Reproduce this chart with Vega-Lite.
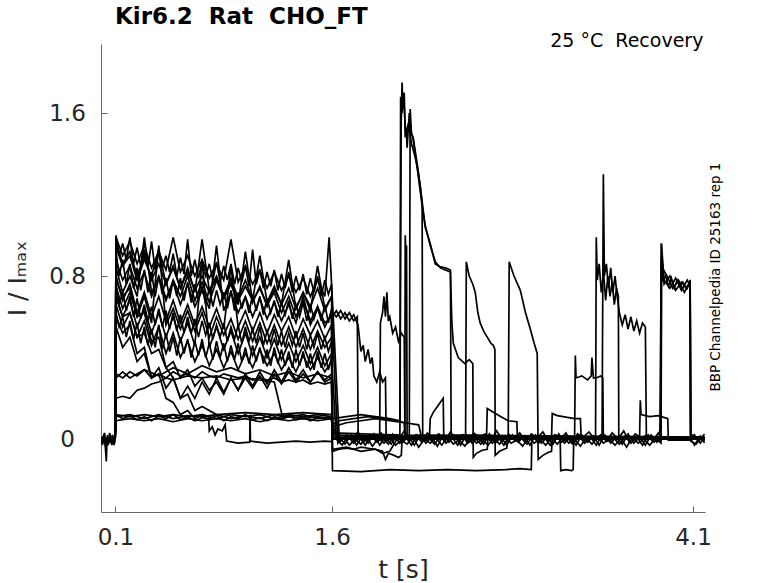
{
"$schema": "https://vega.github.io/schema/vega-lite/v6.json",
"width": 604, "height": 468,
"autosize": "none",
"padding": {"left": 101, "top": 44, "right": 73, "bottom": 71},
"background": "white",
"config": {"view": {"stroke": null}, "font": "DejaVu Sans"},
"title": {"text": "Kir6.2\u00a0\u00a0Rat\u00a0\u00a0CHO_FT", "anchor": "start", "frame": "group", "dx": 14, "fontSize": 23, "fontWeight": "bold", "font": "DejaVu Sans", "color": "black", "offset": 3},
"layer": [
{
"data": {"values": [
{"sweep":"s01","t":0,"i":0.0},{"sweep":"s01","t":0.098,"i":0.01},{"sweep":"s01","t":0.104,"i":0.99},{"sweep":"s01","t":0.15,"i":0.9},{"sweep":"s01","t":0.2,"i":0.97},{"sweep":"s01","t":0.25,"i":0.86},{"sweep":"s01","t":0.3,"i":0.95},{"sweep":"s01","t":0.35,"i":0.84},{"sweep":"s01","t":0.4,"i":0.92},{"sweep":"s01","t":0.45,"i":0.83},{"sweep":"s01","t":0.5,"i":0.99},{"sweep":"s01","t":0.55,"i":0.82},{"sweep":"s01","t":0.6,"i":0.9},{"sweep":"s01","t":0.65,"i":0.8},{"sweep":"s01","t":0.7,"i":0.88},{"sweep":"s01","t":0.75,"i":0.79},{"sweep":"s01","t":0.8,"i":0.86},{"sweep":"s01","t":0.85,"i":0.78},{"sweep":"s01","t":0.9,"i":0.98},{"sweep":"s01","t":0.95,"i":0.77},{"sweep":"s01","t":1.0,"i":0.85},{"sweep":"s01","t":1.05,"i":0.76},{"sweep":"s01","t":1.1,"i":0.83},{"sweep":"s01","t":1.15,"i":0.74},{"sweep":"s01","t":1.2,"i":0.82},{"sweep":"s01","t":1.25,"i":0.73},{"sweep":"s01","t":1.3,"i":0.8},{"sweep":"s01","t":1.35,"i":0.72},{"sweep":"s01","t":1.4,"i":0.79},{"sweep":"s01","t":1.45,"i":0.7},{"sweep":"s01","t":1.5,"i":0.78},{"sweep":"s01","t":1.55,"i":0.7},{"sweep":"s01","t":1.58,"i":0.99},{"sweep":"s01","t":1.597,"i":0.76},{"sweep":"s01","t":1.603,"i":0.62},{"sweep":"s01","t":1.63,"i":0.6},{"sweep":"s01","t":1.66,"i":0.63},{"sweep":"s01","t":1.69,"i":0.59},{"sweep":"s01","t":1.72,"i":0.62},{"sweep":"s01","t":1.75,"i":0.58},{"sweep":"s01","t":1.775,"i":0.6},{"sweep":"s01","t":1.781,"i":0.01},{"sweep":"s01","t":2.5,"i":0.01},{"sweep":"s01","t":3.3,"i":0.0},{"sweep":"s01","t":4.18,"i":0.01},
{"sweep":"s02","t":0,"i":0.0},{"sweep":"s02","t":0.098,"i":0.0},{"sweep":"s02","t":0.104,"i":0.94},{"sweep":"s02","t":0.15,"i":0.85},{"sweep":"s02","t":0.2,"i":0.9},{"sweep":"s02","t":0.25,"i":0.78},{"sweep":"s02","t":0.3,"i":0.88},{"sweep":"s02","t":0.35,"i":0.8},{"sweep":"s02","t":0.4,"i":0.93},{"sweep":"s02","t":0.45,"i":0.76},{"sweep":"s02","t":0.5,"i":0.85},{"sweep":"s02","t":0.55,"i":0.74},{"sweep":"s02","t":0.6,"i":0.84},{"sweep":"s02","t":0.65,"i":0.72},{"sweep":"s02","t":0.7,"i":0.98},{"sweep":"s02","t":0.75,"i":0.73},{"sweep":"s02","t":0.8,"i":0.8},{"sweep":"s02","t":0.85,"i":0.7},{"sweep":"s02","t":0.9,"i":0.79},{"sweep":"s02","t":0.95,"i":0.69},{"sweep":"s02","t":1.0,"i":0.78},{"sweep":"s02","t":1.05,"i":0.68},{"sweep":"s02","t":1.1,"i":0.9},{"sweep":"s02","t":1.15,"i":0.67},{"sweep":"s02","t":1.2,"i":0.75},{"sweep":"s02","t":1.25,"i":0.66},{"sweep":"s02","t":1.3,"i":0.74},{"sweep":"s02","t":1.35,"i":0.64},{"sweep":"s02","t":1.4,"i":0.72},{"sweep":"s02","t":1.45,"i":0.63},{"sweep":"s02","t":1.5,"i":0.85},{"sweep":"s02","t":1.55,"i":0.64},{"sweep":"s02","t":1.597,"i":0.7},{"sweep":"s02","t":1.603,"i":0.6},{"sweep":"s02","t":1.63,"i":0.63},{"sweep":"s02","t":1.66,"i":0.59},{"sweep":"s02","t":1.69,"i":0.62},{"sweep":"s02","t":1.72,"i":0.58},{"sweep":"s02","t":1.75,"i":0.61},{"sweep":"s02","t":1.78,"i":0.56},{"sweep":"s02","t":1.8,"i":0.43},{"sweep":"s02","t":1.816,"i":0.46},{"sweep":"s02","t":1.83,"i":0.38},{"sweep":"s02","t":1.85,"i":0.44},{"sweep":"s02","t":1.865,"i":0.37},{"sweep":"s02","t":1.878,"i":0.4},{"sweep":"s02","t":1.89,"i":0.31},{"sweep":"s02","t":1.91,"i":0.28},{"sweep":"s02","t":1.93,"i":0.33},{"sweep":"s02","t":1.95,"i":0.28},{"sweep":"s02","t":1.97,"i":0.3},{"sweep":"s02","t":1.975,"i":0.0},{"sweep":"s02","t":2.6,"i":0.01},{"sweep":"s02","t":4.18,"i":0.0},
{"sweep":"s03","t":0,"i":0.0},{"sweep":"s03","t":0.098,"i":0.0},{"sweep":"s03","t":0.104,"i":0.88},{"sweep":"s03","t":0.15,"i":0.78},{"sweep":"s03","t":0.2,"i":0.85},{"sweep":"s03","t":0.25,"i":0.74},{"sweep":"s03","t":0.3,"i":0.82},{"sweep":"s03","t":0.35,"i":0.7},{"sweep":"s03","t":0.4,"i":0.8},{"sweep":"s03","t":0.45,"i":0.69},{"sweep":"s03","t":0.5,"i":0.77},{"sweep":"s03","t":0.55,"i":0.66},{"sweep":"s03","t":0.6,"i":0.76},{"sweep":"s03","t":0.65,"i":0.65},{"sweep":"s03","t":0.7,"i":0.73},{"sweep":"s03","t":0.75,"i":0.64},{"sweep":"s03","t":0.8,"i":0.95},{"sweep":"s03","t":0.85,"i":0.63},{"sweep":"s03","t":0.9,"i":0.72},{"sweep":"s03","t":0.95,"i":0.62},{"sweep":"s03","t":1.0,"i":0.7},{"sweep":"s03","t":1.05,"i":0.6},{"sweep":"s03","t":1.1,"i":0.69},{"sweep":"s03","t":1.15,"i":0.59},{"sweep":"s03","t":1.2,"i":0.67},{"sweep":"s03","t":1.25,"i":0.58},{"sweep":"s03","t":1.3,"i":0.66},{"sweep":"s03","t":1.35,"i":0.57},{"sweep":"s03","t":1.4,"i":0.7},{"sweep":"s03","t":1.45,"i":0.56},{"sweep":"s03","t":1.5,"i":0.64},{"sweep":"s03","t":1.55,"i":0.55},{"sweep":"s03","t":1.597,"i":0.62},{"sweep":"s03","t":1.603,"i":0.02},{"sweep":"s03","t":1.93,"i":0.01},{"sweep":"s03","t":1.935,"i":0.57},{"sweep":"s03","t":1.95,"i":0.62},{"sweep":"s03","t":1.96,"i":0.7},{"sweep":"s03","t":1.97,"i":0.6},{"sweep":"s03","t":1.98,"i":0.72},{"sweep":"s03","t":1.99,"i":0.58},{"sweep":"s03","t":2.0,"i":0.6},{"sweep":"s03","t":2.02,"i":0.52},{"sweep":"s03","t":2.04,"i":0.55},{"sweep":"s03","t":2.06,"i":0.48},{"sweep":"s03","t":2.08,"i":0.52},{"sweep":"s03","t":2.1,"i":0.5},{"sweep":"s03","t":2.105,"i":0.01},{"sweep":"s03","t":3.0,"i":0.0},{"sweep":"s03","t":4.18,"i":0.01},
{"sweep":"s04","t":0,"i":0.0},{"sweep":"s04","t":0.098,"i":0.0},{"sweep":"s04","t":0.104,"i":0.84},{"sweep":"s04","t":0.15,"i":0.72},{"sweep":"s04","t":0.2,"i":0.8},{"sweep":"s04","t":0.25,"i":0.7},{"sweep":"s04","t":0.3,"i":0.99},{"sweep":"s04","t":0.35,"i":0.72},{"sweep":"s04","t":0.4,"i":0.79},{"sweep":"s04","t":0.45,"i":0.68},{"sweep":"s04","t":0.5,"i":0.78},{"sweep":"s04","t":0.55,"i":0.7},{"sweep":"s04","t":0.6,"i":0.8},{"sweep":"s04","t":0.65,"i":0.68},{"sweep":"s04","t":0.7,"i":0.77},{"sweep":"s04","t":0.75,"i":0.67},{"sweep":"s04","t":0.8,"i":0.78},{"sweep":"s04","t":0.85,"i":0.69},{"sweep":"s04","t":0.9,"i":0.76},{"sweep":"s04","t":0.95,"i":0.66},{"sweep":"s04","t":1.0,"i":0.92},{"sweep":"s04","t":1.05,"i":0.67},{"sweep":"s04","t":1.1,"i":0.75},{"sweep":"s04","t":1.15,"i":0.65},{"sweep":"s04","t":1.2,"i":0.74},{"sweep":"s04","t":1.25,"i":0.66},{"sweep":"s04","t":1.3,"i":0.88},{"sweep":"s04","t":1.35,"i":0.64},{"sweep":"s04","t":1.4,"i":0.72},{"sweep":"s04","t":1.45,"i":0.65},{"sweep":"s04","t":1.5,"i":0.74},{"sweep":"s04","t":1.55,"i":0.63},{"sweep":"s04","t":1.597,"i":0.7},{"sweep":"s04","t":1.603,"i":0.03},{"sweep":"s04","t":2.07,"i":0.02},{"sweep":"s04","t":2.079,"i":1.55},{"sweep":"s04","t":2.085,"i":1.75},{"sweep":"s04","t":2.092,"i":1.62},{"sweep":"s04","t":2.1,"i":1.7},{"sweep":"s04","t":2.107,"i":1.48},{"sweep":"s04","t":2.114,"i":1.52},{"sweep":"s04","t":2.12,"i":1.43},{"sweep":"s04","t":2.135,"i":1.6},{"sweep":"s04","t":2.15,"i":1.5},{"sweep":"s04","t":2.162,"i":1.48},{"sweep":"s04","t":2.19,"i":1.35},{"sweep":"s04","t":2.225,"i":1.16},{"sweep":"s04","t":2.245,"i":1.04},{"sweep":"s04","t":2.28,"i":0.96},{"sweep":"s04","t":2.315,"i":0.86},{"sweep":"s04","t":2.35,"i":0.845},{"sweep":"s04","t":2.385,"i":0.84},{"sweep":"s04","t":2.42,"i":0.83},{"sweep":"s04","t":2.425,"i":0.02},{"sweep":"s04","t":3.5,"i":0.01},{"sweep":"s04","t":4.18,"i":0.0},
{"sweep":"s05","t":0,"i":0.0},{"sweep":"s05","t":0.098,"i":0.0},{"sweep":"s05","t":0.104,"i":0.8},{"sweep":"s05","t":0.15,"i":0.68},{"sweep":"s05","t":0.2,"i":0.76},{"sweep":"s05","t":0.25,"i":0.62},{"sweep":"s05","t":0.3,"i":0.72},{"sweep":"s05","t":0.35,"i":0.6},{"sweep":"s05","t":0.4,"i":0.7},{"sweep":"s05","t":0.45,"i":0.58},{"sweep":"s05","t":0.5,"i":0.68},{"sweep":"s05","t":0.55,"i":0.57},{"sweep":"s05","t":0.6,"i":0.66},{"sweep":"s05","t":0.65,"i":0.56},{"sweep":"s05","t":0.7,"i":0.65},{"sweep":"s05","t":0.75,"i":0.55},{"sweep":"s05","t":0.8,"i":0.64},{"sweep":"s05","t":0.85,"i":0.54},{"sweep":"s05","t":0.9,"i":0.85},{"sweep":"s05","t":0.95,"i":0.55},{"sweep":"s05","t":1.0,"i":0.63},{"sweep":"s05","t":1.05,"i":0.53},{"sweep":"s05","t":1.1,"i":0.62},{"sweep":"s05","t":1.15,"i":0.52},{"sweep":"s05","t":1.2,"i":0.61},{"sweep":"s05","t":1.25,"i":0.53},{"sweep":"s05","t":1.3,"i":0.6},{"sweep":"s05","t":1.35,"i":0.5},{"sweep":"s05","t":1.4,"i":0.59},{"sweep":"s05","t":1.45,"i":0.51},{"sweep":"s05","t":1.5,"i":0.58},{"sweep":"s05","t":1.55,"i":0.49},{"sweep":"s05","t":1.597,"i":0.56},{"sweep":"s05","t":1.603,"i":0.0},{"sweep":"s05","t":2.135,"i":0.01},{"sweep":"s05","t":2.141,"i":1.62},{"sweep":"s05","t":2.15,"i":1.5},{"sweep":"s05","t":2.162,"i":1.47},{"sweep":"s05","t":2.175,"i":1.4},{"sweep":"s05","t":2.19,"i":1.33},{"sweep":"s05","t":2.225,"i":1.14},{"sweep":"s05","t":2.245,"i":1.05},{"sweep":"s05","t":2.28,"i":0.95},{"sweep":"s05","t":2.315,"i":0.87},{"sweep":"s05","t":2.35,"i":0.84},{"sweep":"s05","t":2.385,"i":0.83},{"sweep":"s05","t":2.42,"i":0.82},{"sweep":"s05","t":2.43,"i":0.57},{"sweep":"s05","t":2.44,"i":0.47},{"sweep":"s05","t":2.474,"i":0.4},{"sweep":"s05","t":2.52,"i":0.37},{"sweep":"s05","t":2.55,"i":0.39},{"sweep":"s05","t":2.575,"i":0.37},{"sweep":"s05","t":2.578,"i":-0.09},{"sweep":"s05","t":2.6,"i":-0.07},{"sweep":"s05","t":2.64,"i":-0.055},{"sweep":"s05","t":2.675,"i":-0.05},{"sweep":"s05","t":2.68,"i":0.0},{"sweep":"s05","t":4.18,"i":0.0},
{"sweep":"s06","t":0,"i":0.0},{"sweep":"s06","t":0.098,"i":0.0},{"sweep":"s06","t":0.104,"i":0.75},{"sweep":"s06","t":0.15,"i":0.64},{"sweep":"s06","t":0.2,"i":0.72},{"sweep":"s06","t":0.25,"i":0.6},{"sweep":"s06","t":0.3,"i":0.7},{"sweep":"s06","t":0.35,"i":0.57},{"sweep":"s06","t":0.4,"i":0.95},{"sweep":"s06","t":0.45,"i":0.56},{"sweep":"s06","t":0.5,"i":0.64},{"sweep":"s06","t":0.55,"i":0.54},{"sweep":"s06","t":0.6,"i":0.63},{"sweep":"s06","t":0.65,"i":0.53},{"sweep":"s06","t":0.7,"i":0.62},{"sweep":"s06","t":0.75,"i":0.5},{"sweep":"s06","t":0.8,"i":0.6},{"sweep":"s06","t":0.85,"i":0.51},{"sweep":"s06","t":0.9,"i":0.59},{"sweep":"s06","t":0.95,"i":0.49},{"sweep":"s06","t":1.0,"i":0.58},{"sweep":"s06","t":1.05,"i":0.48},{"sweep":"s06","t":1.1,"i":0.57},{"sweep":"s06","t":1.15,"i":0.47},{"sweep":"s06","t":1.2,"i":0.56},{"sweep":"s06","t":1.25,"i":0.46},{"sweep":"s06","t":1.3,"i":0.55},{"sweep":"s06","t":1.35,"i":0.45},{"sweep":"s06","t":1.4,"i":0.54},{"sweep":"s06","t":1.45,"i":0.44},{"sweep":"s06","t":1.5,"i":0.53},{"sweep":"s06","t":1.55,"i":0.45},{"sweep":"s06","t":1.597,"i":0.5},{"sweep":"s06","t":1.603,"i":0.07},{"sweep":"s06","t":1.65,"i":0.09},{"sweep":"s06","t":1.75,"i":0.1},{"sweep":"s06","t":1.85,"i":0.11},{"sweep":"s06","t":1.95,"i":0.1},{"sweep":"s06","t":2.05,"i":0.09},{"sweep":"s06","t":2.1,"i":0.08},{"sweep":"s06","t":2.104,"i":0.02},{"sweep":"s06","t":2.107,"i":1.0},{"sweep":"s06","t":2.112,"i":0.9},{"sweep":"s06","t":2.116,"i":0.95},{"sweep":"s06","t":2.12,"i":0.02},{"sweep":"s06","t":3.0,"i":0.01},{"sweep":"s06","t":4.18,"i":0.0},
{"sweep":"s07","t":0,"i":0.0},{"sweep":"s07","t":0.098,"i":0.0},{"sweep":"s07","t":0.104,"i":0.7},{"sweep":"s07","t":0.15,"i":0.6},{"sweep":"s07","t":0.2,"i":0.68},{"sweep":"s07","t":0.25,"i":0.55},{"sweep":"s07","t":0.3,"i":0.64},{"sweep":"s07","t":0.35,"i":0.52},{"sweep":"s07","t":0.4,"i":0.62},{"sweep":"s07","t":0.45,"i":0.5},{"sweep":"s07","t":0.5,"i":0.6},{"sweep":"s07","t":0.55,"i":0.48},{"sweep":"s07","t":0.6,"i":0.57},{"sweep":"s07","t":0.65,"i":0.46},{"sweep":"s07","t":0.7,"i":0.88},{"sweep":"s07","t":0.75,"i":0.45},{"sweep":"s07","t":0.8,"i":0.55},{"sweep":"s07","t":0.85,"i":0.44},{"sweep":"s07","t":0.9,"i":0.53},{"sweep":"s07","t":0.95,"i":0.42},{"sweep":"s07","t":1.0,"i":0.52},{"sweep":"s07","t":1.05,"i":0.41},{"sweep":"s07","t":1.1,"i":0.5},{"sweep":"s07","t":1.15,"i":0.4},{"sweep":"s07","t":1.2,"i":0.49},{"sweep":"s07","t":1.25,"i":0.39},{"sweep":"s07","t":1.3,"i":0.47},{"sweep":"s07","t":1.35,"i":0.38},{"sweep":"s07","t":1.4,"i":0.46},{"sweep":"s07","t":1.45,"i":0.37},{"sweep":"s07","t":1.5,"i":0.45},{"sweep":"s07","t":1.55,"i":0.36},{"sweep":"s07","t":1.597,"i":0.42},{"sweep":"s07","t":1.603,"i":0.1},{"sweep":"s07","t":1.7,"i":0.11},{"sweep":"s07","t":1.8,"i":0.12},{"sweep":"s07","t":1.9,"i":0.11},{"sweep":"s07","t":2.0,"i":0.1},{"sweep":"s07","t":2.07,"i":0.09},{"sweep":"s07","t":2.075,"i":1.68},{"sweep":"s07","t":2.085,"i":1.6},{"sweep":"s07","t":2.095,"i":1.7},{"sweep":"s07","t":2.11,"i":1.5},{"sweep":"s07","t":2.13,"i":1.55},{"sweep":"s07","t":2.15,"i":1.45},{"sweep":"s07","t":2.17,"i":1.4},{"sweep":"s07","t":2.19,"i":1.34},{"sweep":"s07","t":2.21,"i":1.25},{"sweep":"s07","t":2.224,"i":1.16},{"sweep":"s07","t":2.228,"i":0.02},{"sweep":"s07","t":4.18,"i":0.01},
{"sweep":"s08","t":0,"i":0.0},{"sweep":"s08","t":0.098,"i":0.0},{"sweep":"s08","t":0.104,"i":0.66},{"sweep":"s08","t":0.15,"i":0.55},{"sweep":"s08","t":0.2,"i":0.62},{"sweep":"s08","t":0.25,"i":0.5},{"sweep":"s08","t":0.3,"i":0.58},{"sweep":"s08","t":0.35,"i":0.46},{"sweep":"s08","t":0.4,"i":0.55},{"sweep":"s08","t":0.45,"i":0.42},{"sweep":"s08","t":0.5,"i":0.52},{"sweep":"s08","t":0.55,"i":0.4},{"sweep":"s08","t":0.6,"i":0.48},{"sweep":"s08","t":0.65,"i":0.38},{"sweep":"s08","t":0.7,"i":0.46},{"sweep":"s08","t":0.75,"i":0.36},{"sweep":"s08","t":0.8,"i":0.44},{"sweep":"s08","t":0.85,"i":0.35},{"sweep":"s08","t":0.9,"i":0.43},{"sweep":"s08","t":0.95,"i":0.34},{"sweep":"s08","t":1.0,"i":0.42},{"sweep":"s08","t":1.05,"i":0.35},{"sweep":"s08","t":1.1,"i":0.44},{"sweep":"s08","t":1.15,"i":0.36},{"sweep":"s08","t":1.2,"i":0.42},{"sweep":"s08","t":1.25,"i":0.34},{"sweep":"s08","t":1.3,"i":0.4},{"sweep":"s08","t":1.35,"i":0.33},{"sweep":"s08","t":1.4,"i":0.41},{"sweep":"s08","t":1.45,"i":0.34},{"sweep":"s08","t":1.5,"i":0.4},{"sweep":"s08","t":1.55,"i":0.33},{"sweep":"s08","t":1.597,"i":0.38},{"sweep":"s08","t":1.603,"i":0.0},{"sweep":"s08","t":2.525,"i":0.01},{"sweep":"s08","t":2.53,"i":0.87},{"sweep":"s08","t":2.55,"i":0.8},{"sweep":"s08","t":2.575,"i":0.76},{"sweep":"s08","t":2.592,"i":0.72},{"sweep":"s08","t":2.61,"i":0.62},{"sweep":"s08","t":2.626,"i":0.57},{"sweep":"s08","t":2.65,"i":0.53},{"sweep":"s08","t":2.675,"i":0.5},{"sweep":"s08","t":2.7,"i":0.47},{"sweep":"s08","t":2.717,"i":0.46},{"sweep":"s08","t":2.728,"i":0.44},{"sweep":"s08","t":2.73,"i":-0.08},{"sweep":"s08","t":2.76,"i":-0.06},{"sweep":"s08","t":2.79,"i":-0.05},{"sweep":"s08","t":2.81,"i":-0.045},{"sweep":"s08","t":2.815,"i":0.0},{"sweep":"s08","t":4.18,"i":0.0},
{"sweep":"s09","t":0,"i":0.0},{"sweep":"s09","t":0.098,"i":0.0},{"sweep":"s09","t":0.104,"i":0.6},{"sweep":"s09","t":0.15,"i":0.52},{"sweep":"s09","t":0.2,"i":0.56},{"sweep":"s09","t":0.25,"i":0.42},{"sweep":"s09","t":0.3,"i":0.45},{"sweep":"s09","t":0.35,"i":0.3},{"sweep":"s09","t":0.4,"i":0.32},{"sweep":"s09","t":0.45,"i":0.2},{"sweep":"s09","t":0.5,"i":0.18},{"sweep":"s09","t":0.55,"i":0.12},{"sweep":"s09","t":0.6,"i":0.14},{"sweep":"s09","t":0.65,"i":0.1},{"sweep":"s09","t":0.7,"i":0.12},{"sweep":"s09","t":0.8,"i":0.1},{"sweep":"s09","t":0.9,"i":0.12},{"sweep":"s09","t":1.0,"i":0.11},{"sweep":"s09","t":1.1,"i":0.12},{"sweep":"s09","t":1.2,"i":0.1},{"sweep":"s09","t":1.3,"i":0.12},{"sweep":"s09","t":1.4,"i":0.11},{"sweep":"s09","t":1.5,"i":0.12},{"sweep":"s09","t":1.597,"i":0.11},{"sweep":"s09","t":1.603,"i":0.01},{"sweep":"s09","t":2.82,"i":0.0},{"sweep":"s09","t":2.827,"i":0.87},{"sweep":"s09","t":2.86,"i":0.8},{"sweep":"s09","t":2.904,"i":0.73},{"sweep":"s09","t":2.94,"i":0.62},{"sweep":"s09","t":2.973,"i":0.54},{"sweep":"s09","t":3.0,"i":0.47},{"sweep":"s09","t":3.021,"i":0.42},{"sweep":"s09","t":3.028,"i":-0.1},{"sweep":"s09","t":3.06,"i":-0.08},{"sweep":"s09","t":3.1,"i":-0.065},{"sweep":"s09","t":3.12,"i":-0.06},{"sweep":"s09","t":3.125,"i":0.0},{"sweep":"s09","t":4.18,"i":0.0},
{"sweep":"s10","t":0,"i":0.0},{"sweep":"s10","t":0.098,"i":0.0},{"sweep":"s10","t":0.104,"i":0.55},{"sweep":"s10","t":0.15,"i":0.45},{"sweep":"s10","t":0.2,"i":0.5},{"sweep":"s10","t":0.25,"i":0.38},{"sweep":"s10","t":0.3,"i":0.42},{"sweep":"s10","t":0.35,"i":0.3},{"sweep":"s10","t":0.4,"i":0.35},{"sweep":"s10","t":0.45,"i":0.25},{"sweep":"s10","t":0.5,"i":0.3},{"sweep":"s10","t":0.55,"i":0.2},{"sweep":"s10","t":0.6,"i":0.26},{"sweep":"s10","t":0.65,"i":0.2},{"sweep":"s10","t":0.7,"i":0.28},{"sweep":"s10","t":0.75,"i":0.22},{"sweep":"s10","t":0.8,"i":0.3},{"sweep":"s10","t":0.85,"i":0.23},{"sweep":"s10","t":0.9,"i":0.3},{"sweep":"s10","t":0.95,"i":0.24},{"sweep":"s10","t":1.0,"i":0.3},{"sweep":"s10","t":1.05,"i":0.25},{"sweep":"s10","t":1.1,"i":0.31},{"sweep":"s10","t":1.15,"i":0.25},{"sweep":"s10","t":1.2,"i":0.32},{"sweep":"s10","t":1.25,"i":0.27},{"sweep":"s10","t":1.3,"i":0.33},{"sweep":"s10","t":1.35,"i":0.28},{"sweep":"s10","t":1.4,"i":0.32},{"sweep":"s10","t":1.45,"i":0.28},{"sweep":"s10","t":1.5,"i":0.33},{"sweep":"s10","t":1.55,"i":0.29},{"sweep":"s10","t":1.597,"i":0.32},{"sweep":"s10","t":1.603,"i":-0.06},{"sweep":"s10","t":1.65,"i":-0.05},{"sweep":"s10","t":1.7,"i":-0.045},{"sweep":"s10","t":1.75,"i":-0.05},{"sweep":"s10","t":1.8,"i":-0.04},{"sweep":"s10","t":1.85,"i":-0.045},{"sweep":"s10","t":1.9,"i":-0.05},{"sweep":"s10","t":1.95,"i":-0.06},{"sweep":"s10","t":1.97,"i":-0.1},{"sweep":"s10","t":1.99,"i":-0.07},{"sweep":"s10","t":2.03,"i":-0.08},{"sweep":"s10","t":2.06,"i":-0.09},{"sweep":"s10","t":2.08,"i":-0.08},{"sweep":"s10","t":2.085,"i":0.0},{"sweep":"s10","t":2.67,"i":0.01},{"sweep":"s10","t":2.675,"i":0.15},{"sweep":"s10","t":2.72,"i":0.13},{"sweep":"s10","t":2.77,"i":0.11},{"sweep":"s10","t":2.82,"i":0.09},{"sweep":"s10","t":2.88,"i":0.085},{"sweep":"s10","t":2.884,"i":0.0},{"sweep":"s10","t":4.18,"i":0.0},
{"sweep":"s11","t":0,"i":0.0},{"sweep":"s11","t":0.098,"i":0.0},{"sweep":"s11","t":0.104,"i":0.32},{"sweep":"s11","t":0.15,"i":0.3},{"sweep":"s11","t":0.2,"i":0.33},{"sweep":"s11","t":0.25,"i":0.31},{"sweep":"s11","t":0.3,"i":0.34},{"sweep":"s11","t":0.35,"i":0.3},{"sweep":"s11","t":0.4,"i":0.32},{"sweep":"s11","t":0.45,"i":0.3},{"sweep":"s11","t":0.5,"i":0.33},{"sweep":"s11","t":0.55,"i":0.31},{"sweep":"s11","t":0.6,"i":0.32},{"sweep":"s11","t":0.65,"i":0.3},{"sweep":"s11","t":0.7,"i":0.33},{"sweep":"s11","t":0.75,"i":0.31},{"sweep":"s11","t":0.8,"i":0.3},{"sweep":"s11","t":0.85,"i":0.32},{"sweep":"s11","t":0.9,"i":0.31},{"sweep":"s11","t":0.95,"i":0.3},{"sweep":"s11","t":1.0,"i":0.31},{"sweep":"s11","t":1.05,"i":0.29},{"sweep":"s11","t":1.1,"i":0.3},{"sweep":"s11","t":1.15,"i":0.29},{"sweep":"s11","t":1.2,"i":0.3},{"sweep":"s11","t":1.25,"i":0.28},{"sweep":"s11","t":1.3,"i":0.29},{"sweep":"s11","t":1.35,"i":0.28},{"sweep":"s11","t":1.4,"i":0.29},{"sweep":"s11","t":1.45,"i":0.27},{"sweep":"s11","t":1.5,"i":0.28},{"sweep":"s11","t":1.55,"i":0.27},{"sweep":"s11","t":1.597,"i":0.28},{"sweep":"s11","t":1.603,"i":-0.155},{"sweep":"s11","t":1.8,"i":-0.16},{"sweep":"s11","t":2.0,"i":-0.15},{"sweep":"s11","t":2.2,"i":-0.155},{"sweep":"s11","t":2.4,"i":-0.15},{"sweep":"s11","t":2.6,"i":-0.155},{"sweep":"s11","t":2.8,"i":-0.15},{"sweep":"s11","t":2.9,"i":-0.145},{"sweep":"s11","t":2.98,"i":-0.15},{"sweep":"s11","t":2.984,"i":0.0},{"sweep":"s11","t":4.18,"i":0.0},
{"sweep":"s12","t":0,"i":0.0},{"sweep":"s12","t":0.098,"i":0.0},{"sweep":"s12","t":0.104,"i":0.2},{"sweep":"s12","t":0.15,"i":0.21},{"sweep":"s12","t":0.2,"i":0.2},{"sweep":"s12","t":0.25,"i":0.24},{"sweep":"s12","t":0.3,"i":0.25},{"sweep":"s12","t":0.35,"i":0.27},{"sweep":"s12","t":0.4,"i":0.28},{"sweep":"s12","t":0.45,"i":0.3},{"sweep":"s12","t":0.5,"i":0.29},{"sweep":"s12","t":0.6,"i":0.31},{"sweep":"s12","t":0.7,"i":0.3},{"sweep":"s12","t":0.8,"i":0.31},{"sweep":"s12","t":0.9,"i":0.29},{"sweep":"s12","t":1.0,"i":0.3},{"sweep":"s12","t":1.1,"i":0.29},{"sweep":"s12","t":1.2,"i":0.28},{"sweep":"s12","t":1.26,"i":0.1},{"sweep":"s12","t":1.3,"i":0.11},{"sweep":"s12","t":1.4,"i":0.1},{"sweep":"s12","t":1.5,"i":0.11},{"sweep":"s12","t":1.597,"i":0.1},{"sweep":"s12","t":1.603,"i":0.02},{"sweep":"s12","t":3.28,"i":0.01},{"sweep":"s12","t":3.285,"i":0.41},{"sweep":"s12","t":3.29,"i":0.3},{"sweep":"s12","t":3.33,"i":0.31},{"sweep":"s12","t":3.37,"i":0.29},{"sweep":"s12","t":3.395,"i":0.31},{"sweep":"s12","t":3.4,"i":0.4},{"sweep":"s12","t":3.41,"i":0.3},{"sweep":"s12","t":3.43,"i":0.3},{"sweep":"s12","t":3.46,"i":0.31},{"sweep":"s12","t":3.475,"i":0.3},{"sweep":"s12","t":3.479,"i":0.01},{"sweep":"s12","t":4.18,"i":0.0},
{"sweep":"s13","t":0,"i":0.0},{"sweep":"s13","t":0.098,"i":0.0},{"sweep":"s13","t":0.104,"i":0.11},{"sweep":"s13","t":0.2,"i":0.12},{"sweep":"s13","t":0.3,"i":0.1},{"sweep":"s13","t":0.4,"i":0.12},{"sweep":"s13","t":0.5,"i":0.1},{"sweep":"s13","t":0.6,"i":0.115},{"sweep":"s13","t":0.7,"i":0.11},{"sweep":"s13","t":0.8,"i":0.12},{"sweep":"s13","t":0.9,"i":0.1},{"sweep":"s13","t":1.0,"i":0.115},{"sweep":"s13","t":1.1,"i":0.1},{"sweep":"s13","t":1.2,"i":0.12},{"sweep":"s13","t":1.3,"i":0.11},{"sweep":"s13","t":1.4,"i":0.12},{"sweep":"s13","t":1.5,"i":0.1},{"sweep":"s13","t":1.597,"i":0.11},{"sweep":"s13","t":1.603,"i":0.01},{"sweep":"s13","t":3.425,"i":0.0},{"sweep":"s13","t":3.43,"i":0.99},{"sweep":"s13","t":3.437,"i":0.78},{"sweep":"s13","t":3.45,"i":0.86},{"sweep":"s13","t":3.465,"i":0.72},{"sweep":"s13","t":3.48,"i":0.82},{"sweep":"s13","t":3.495,"i":0.68},{"sweep":"s13","t":3.51,"i":0.8},{"sweep":"s13","t":3.525,"i":0.7},{"sweep":"s13","t":3.54,"i":0.77},{"sweep":"s13","t":3.555,"i":0.66},{"sweep":"s13","t":3.57,"i":0.74},{"sweep":"s13","t":3.583,"i":0.7},{"sweep":"s13","t":3.586,"i":0.01},{"sweep":"s13","t":4.18,"i":0.0},
{"sweep":"s14","t":0,"i":0.0},{"sweep":"s14","t":0.098,"i":0.0},{"sweep":"s14","t":0.104,"i":0.12},{"sweep":"s14","t":0.2,"i":0.11},{"sweep":"s14","t":0.3,"i":0.12},{"sweep":"s14","t":0.4,"i":0.11},{"sweep":"s14","t":0.5,"i":0.12},{"sweep":"s14","t":0.6,"i":0.11},{"sweep":"s14","t":0.7,"i":0.12},{"sweep":"s14","t":0.745,"i":0.11},{"sweep":"s14","t":0.75,"i":0.04},{"sweep":"s14","t":0.77,"i":0.06},{"sweep":"s14","t":0.79,"i":0.02},{"sweep":"s14","t":0.81,"i":0.05},{"sweep":"s14","t":0.84,"i":0.04},{"sweep":"s14","t":0.86,"i":0.07},{"sweep":"s14","t":0.87,"i":-0.01},{"sweep":"s14","t":0.95,"i":-0.02},{"sweep":"s14","t":1.03,"i":-0.015},{"sweep":"s14","t":1.032,"i":0.12},{"sweep":"s14","t":1.035,"i":-0.01},{"sweep":"s14","t":1.15,"i":-0.02},{"sweep":"s14","t":1.25,"i":-0.015},{"sweep":"s14","t":1.35,"i":-0.01},{"sweep":"s14","t":1.45,"i":-0.015},{"sweep":"s14","t":1.55,"i":-0.01},{"sweep":"s14","t":1.597,"i":-0.012},{"sweep":"s14","t":1.603,"i":0.0},{"sweep":"s14","t":3.47,"i":0.01},{"sweep":"s14","t":3.479,"i":1.3},{"sweep":"s14","t":3.486,"i":0.8},{"sweep":"s14","t":3.5,"i":0.86},{"sweep":"s14","t":3.515,"i":0.74},{"sweep":"s14","t":3.53,"i":0.84},{"sweep":"s14","t":3.545,"i":0.72},{"sweep":"s14","t":3.56,"i":0.8},{"sweep":"s14","t":3.575,"i":0.7},{"sweep":"s14","t":3.59,"i":0.62},{"sweep":"s14","t":3.61,"i":0.56},{"sweep":"s14","t":3.63,"i":0.61},{"sweep":"s14","t":3.65,"i":0.54},{"sweep":"s14","t":3.67,"i":0.6},{"sweep":"s14","t":3.69,"i":0.53},{"sweep":"s14","t":3.71,"i":0.58},{"sweep":"s14","t":3.73,"i":0.52},{"sweep":"s14","t":3.75,"i":0.57},{"sweep":"s14","t":3.77,"i":0.55},{"sweep":"s14","t":3.777,"i":0.01},{"sweep":"s14","t":4.18,"i":0.0},
{"sweep":"s15","t":0,"i":0.0},{"sweep":"s15","t":0.098,"i":0.0},{"sweep":"s15","t":0.104,"i":0.09},{"sweep":"s15","t":0.2,"i":0.1},{"sweep":"s15","t":0.3,"i":0.09},{"sweep":"s15","t":0.4,"i":0.1},{"sweep":"s15","t":0.5,"i":0.085},{"sweep":"s15","t":0.6,"i":0.1},{"sweep":"s15","t":0.7,"i":0.09},{"sweep":"s15","t":0.8,"i":0.1},{"sweep":"s15","t":0.9,"i":0.09},{"sweep":"s15","t":1.0,"i":0.1},{"sweep":"s15","t":1.1,"i":0.085},{"sweep":"s15","t":1.2,"i":0.1},{"sweep":"s15","t":1.3,"i":0.09},{"sweep":"s15","t":1.4,"i":0.1},{"sweep":"s15","t":1.5,"i":0.09},{"sweep":"s15","t":1.597,"i":0.1},{"sweep":"s15","t":1.603,"i":0.06},{"sweep":"s15","t":1.7,"i":0.08},{"sweep":"s15","t":1.8,"i":0.09},{"sweep":"s15","t":1.9,"i":0.1},{"sweep":"s15","t":2.0,"i":0.09},{"sweep":"s15","t":2.1,"i":0.08},{"sweep":"s15","t":2.2,"i":0.07},{"sweep":"s15","t":2.22,"i":0.01},{"sweep":"s15","t":3.87,"i":0.0},{"sweep":"s15","t":3.881,"i":0.96},{"sweep":"s15","t":3.89,"i":0.78},{"sweep":"s15","t":3.91,"i":0.8},{"sweep":"s15","t":3.93,"i":0.75},{"sweep":"s15","t":3.95,"i":0.79},{"sweep":"s15","t":3.97,"i":0.74},{"sweep":"s15","t":3.99,"i":0.78},{"sweep":"s15","t":4.01,"i":0.75},{"sweep":"s15","t":4.03,"i":0.77},{"sweep":"s15","t":4.05,"i":0.74},{"sweep":"s15","t":4.07,"i":0.76},{"sweep":"s15","t":4.08,"i":0.74},{"sweep":"s15","t":4.083,"i":0.01},{"sweep":"s15","t":4.18,"i":0.0},
{"sweep":"s16","t":0,"i":0.0},{"sweep":"s16","t":0.098,"i":0.0},{"sweep":"s16","t":0.104,"i":0.7},{"sweep":"s16","t":0.15,"i":0.6},{"sweep":"s16","t":0.2,"i":0.62},{"sweep":"s16","t":0.25,"i":0.5},{"sweep":"s16","t":0.3,"i":0.52},{"sweep":"s16","t":0.35,"i":0.42},{"sweep":"s16","t":0.4,"i":0.44},{"sweep":"s16","t":0.45,"i":0.35},{"sweep":"s16","t":0.5,"i":0.38},{"sweep":"s16","t":0.55,"i":0.3},{"sweep":"s16","t":0.6,"i":0.34},{"sweep":"s16","t":0.65,"i":0.26},{"sweep":"s16","t":0.7,"i":0.3},{"sweep":"s16","t":0.75,"i":0.24},{"sweep":"s16","t":0.8,"i":0.28},{"sweep":"s16","t":0.85,"i":0.22},{"sweep":"s16","t":0.9,"i":0.3},{"sweep":"s16","t":0.95,"i":0.24},{"sweep":"s16","t":1.0,"i":0.32},{"sweep":"s16","t":1.05,"i":0.26},{"sweep":"s16","t":1.1,"i":0.33},{"sweep":"s16","t":1.15,"i":0.27},{"sweep":"s16","t":1.2,"i":0.34},{"sweep":"s16","t":1.25,"i":0.28},{"sweep":"s16","t":1.3,"i":0.35},{"sweep":"s16","t":1.35,"i":0.29},{"sweep":"s16","t":1.4,"i":0.34},{"sweep":"s16","t":1.45,"i":0.28},{"sweep":"s16","t":1.5,"i":0.33},{"sweep":"s16","t":1.55,"i":0.28},{"sweep":"s16","t":1.597,"i":0.3},{"sweep":"s16","t":1.603,"i":-0.05},{"sweep":"s16","t":1.7,"i":-0.04},{"sweep":"s16","t":1.8,"i":-0.06},{"sweep":"s16","t":1.9,"i":-0.05},{"sweep":"s16","t":1.95,"i":-0.07},{"sweep":"s16","t":2.0,"i":-0.06},{"sweep":"s16","t":2.05,"i":0.0},{"sweep":"s16","t":3.73,"i":0.01},{"sweep":"s16","t":3.735,"i":0.19},{"sweep":"s16","t":3.74,"i":0.12},{"sweep":"s16","t":3.8,"i":0.11},{"sweep":"s16","t":3.86,"i":0.115},{"sweep":"s16","t":3.925,"i":0.1},{"sweep":"s16","t":3.929,"i":-0.005},{"sweep":"s16","t":4.08,"i":-0.005},{"sweep":"s16","t":4.083,"i":0.01},{"sweep":"s16","t":4.18,"i":0.0},
{"sweep":"s17","t":0,"i":0.0},{"sweep":"s17","t":0.098,"i":0.0},{"sweep":"s17","t":0.104,"i":0.78},{"sweep":"s17","t":0.15,"i":0.7},{"sweep":"s17","t":0.2,"i":0.74},{"sweep":"s17","t":0.25,"i":0.6},{"sweep":"s17","t":0.3,"i":0.62},{"sweep":"s17","t":0.35,"i":0.48},{"sweep":"s17","t":0.4,"i":0.5},{"sweep":"s17","t":0.45,"i":0.35},{"sweep":"s17","t":0.5,"i":0.3},{"sweep":"s17","t":0.55,"i":0.2},{"sweep":"s17","t":0.6,"i":0.22},{"sweep":"s17","t":0.65,"i":0.14},{"sweep":"s17","t":0.7,"i":0.16},{"sweep":"s17","t":0.8,"i":0.12},{"sweep":"s17","t":1.0,"i":0.13},{"sweep":"s17","t":1.2,"i":0.12},{"sweep":"s17","t":1.4,"i":0.13},{"sweep":"s17","t":1.597,"i":0.12},{"sweep":"s17","t":1.603,"i":0.0},{"sweep":"s17","t":2.275,"i":0.01},{"sweep":"s17","t":2.28,"i":0.1},{"sweep":"s17","t":2.3,"i":0.13},{"sweep":"s17","t":2.33,"i":0.16},{"sweep":"s17","t":2.36,"i":0.19},{"sweep":"s17","t":2.37,"i":0.2},{"sweep":"s17","t":2.374,"i":0.0},{"sweep":"s17","t":4.18,"i":0.0},
{"sweep":"s18","t":0,"i":0.0},{"sweep":"s18","t":0.098,"i":0.0},{"sweep":"s18","t":0.104,"i":0.97},{"sweep":"s18","t":0.15,"i":0.86},{"sweep":"s18","t":0.2,"i":0.92},{"sweep":"s18","t":0.25,"i":0.8},{"sweep":"s18","t":0.3,"i":0.9},{"sweep":"s18","t":0.35,"i":0.78},{"sweep":"s18","t":0.4,"i":0.86},{"sweep":"s18","t":0.45,"i":0.76},{"sweep":"s18","t":0.5,"i":0.84},{"sweep":"s18","t":0.55,"i":0.74},{"sweep":"s18","t":0.6,"i":0.82},{"sweep":"s18","t":0.65,"i":0.73},{"sweep":"s18","t":0.7,"i":0.8},{"sweep":"s18","t":0.75,"i":0.72},{"sweep":"s18","t":0.8,"i":0.79},{"sweep":"s18","t":0.85,"i":0.7},{"sweep":"s18","t":0.9,"i":0.77},{"sweep":"s18","t":0.95,"i":0.68},{"sweep":"s18","t":1.0,"i":0.75},{"sweep":"s18","t":1.05,"i":0.68},{"sweep":"s18","t":1.1,"i":0.74},{"sweep":"s18","t":1.15,"i":0.66},{"sweep":"s18","t":1.2,"i":0.72},{"sweep":"s18","t":1.25,"i":0.62},{"sweep":"s18","t":1.3,"i":0.7},{"sweep":"s18","t":1.35,"i":0.6},{"sweep":"s18","t":1.4,"i":0.68},{"sweep":"s18","t":1.45,"i":0.58},{"sweep":"s18","t":1.5,"i":0.65},{"sweep":"s18","t":1.55,"i":0.57},{"sweep":"s18","t":1.597,"i":0.6},{"sweep":"s18","t":1.603,"i":0.0},{"sweep":"s18","t":3.18,"i":0.0},{"sweep":"s18","t":3.184,"i":-0.155},{"sweep":"s18","t":3.22,"i":-0.15},{"sweep":"s18","t":3.26,"i":-0.155},{"sweep":"s18","t":3.27,"i":-0.15},{"sweep":"s18","t":3.274,"i":0.0},{"sweep":"s18","t":4.18,"i":0.0},
{"sweep":"s19","t":0,"i":0.0},{"sweep":"s19","t":0.098,"i":0.0},{"sweep":"s19","t":0.104,"i":0.3},{"sweep":"s19","t":0.15,"i":0.33},{"sweep":"s19","t":0.2,"i":0.3},{"sweep":"s19","t":0.3,"i":0.34},{"sweep":"s19","t":0.4,"i":0.31},{"sweep":"s19","t":0.5,"i":0.35},{"sweep":"s19","t":0.6,"i":0.32},{"sweep":"s19","t":0.7,"i":0.36},{"sweep":"s19","t":0.8,"i":0.33},{"sweep":"s19","t":0.9,"i":0.35},{"sweep":"s19","t":1.0,"i":0.32},{"sweep":"s19","t":1.1,"i":0.34},{"sweep":"s19","t":1.2,"i":0.31},{"sweep":"s19","t":1.3,"i":0.33},{"sweep":"s19","t":1.4,"i":0.3},{"sweep":"s19","t":1.5,"i":0.32},{"sweep":"s19","t":1.597,"i":0.3},{"sweep":"s19","t":1.603,"i":0.0},{"sweep":"s19","t":3.12,"i":0.0},{"sweep":"s19","t":3.125,"i":0.125},{"sweep":"s19","t":3.16,"i":0.115},{"sweep":"s19","t":3.2,"i":0.11},{"sweep":"s19","t":3.24,"i":0.105},{"sweep":"s19","t":3.28,"i":0.1},{"sweep":"s19","t":3.32,"i":0.1},{"sweep":"s19","t":3.326,"i":0.0},{"sweep":"s19","t":4.18,"i":0.0},
{"sweep":"n1","t":0,"i":0.0},{"sweep":"n1","t":0.01,"i":-0.03},{"sweep":"n1","t":0.02,"i":0.02},{"sweep":"n1","t":0.03,"i":-0.04},{"sweep":"n1","t":0.037,"i":-0.11},{"sweep":"n1","t":0.042,"i":0.01},{"sweep":"n1","t":0.05,"i":-0.03},{"sweep":"n1","t":0.06,"i":0.03},{"sweep":"n1","t":0.07,"i":-0.02},{"sweep":"n1","t":0.08,"i":0.02},{"sweep":"n1","t":0.09,"i":-0.03},{"sweep":"n1","t":0.098,"i":0.01},
{"sweep":"n1","t":0.104,"i":0.12},{"sweep":"n1","t":0.15,"i":0.1},{"sweep":"n1","t":0.2,"i":0.115},{"sweep":"n1","t":0.25,"i":0.095},{"sweep":"n1","t":0.3,"i":0.11},{"sweep":"n1","t":0.35,"i":0.09},{"sweep":"n1","t":0.4,"i":0.115},{"sweep":"n1","t":0.45,"i":0.1},{"sweep":"n1","t":0.5,"i":0.12},{"sweep":"n1","t":0.55,"i":0.095},{"sweep":"n1","t":0.6,"i":0.11},{"sweep":"n1","t":0.65,"i":0.09},{"sweep":"n1","t":0.7,"i":0.105},{"sweep":"n1","t":0.75,"i":0.1},{"sweep":"n1","t":0.8,"i":0.115},{"sweep":"n1","t":0.85,"i":0.09},{"sweep":"n1","t":0.9,"i":0.11},{"sweep":"n1","t":0.95,"i":0.1},{"sweep":"n1","t":1.0,"i":0.12},{"sweep":"n1","t":1.05,"i":0.095},{"sweep":"n1","t":1.1,"i":0.105},{"sweep":"n1","t":1.15,"i":0.09},{"sweep":"n1","t":1.2,"i":0.11},{"sweep":"n1","t":1.25,"i":0.1},{"sweep":"n1","t":1.3,"i":0.115},{"sweep":"n1","t":1.35,"i":0.095},{"sweep":"n1","t":1.4,"i":0.11},{"sweep":"n1","t":1.45,"i":0.09},{"sweep":"n1","t":1.5,"i":0.105},{"sweep":"n1","t":1.55,"i":0.1},{"sweep":"n1","t":1.597,"i":0.1},
{"sweep":"n1","t":1.62,"i":0.03},{"sweep":"n1","t":1.66,"i":-0.01},{"sweep":"n1","t":1.7,"i":0.02},{"sweep":"n1","t":1.74,"i":0.0},{"sweep":"n1","t":1.78,"i":0.035},{"sweep":"n1","t":1.82,"i":-0.015},{"sweep":"n1","t":1.86,"i":0.02},{"sweep":"n1","t":1.9,"i":0.005},{"sweep":"n1","t":1.94,"i":0.03},{"sweep":"n1","t":1.98,"i":-0.01},{"sweep":"n1","t":2.02,"i":0.025},{"sweep":"n1","t":2.06,"i":-0.005},{"sweep":"n1","t":2.1,"i":0.04},{"sweep":"n1","t":2.14,"i":0.0},{"sweep":"n1","t":2.18,"i":0.02},{"sweep":"n1","t":2.22,"i":-0.015},{"sweep":"n1","t":2.26,"i":0.03},{"sweep":"n1","t":2.3,"i":0.005},{"sweep":"n1","t":2.34,"i":0.025},{"sweep":"n1","t":2.38,"i":-0.01},{"sweep":"n1","t":2.42,"i":0.035},{"sweep":"n1","t":2.46,"i":0.0},{"sweep":"n1","t":2.5,"i":0.02},{"sweep":"n1","t":2.54,"i":-0.02},{"sweep":"n1","t":2.58,"i":0.03},{"sweep":"n1","t":2.62,"i":0.01},{"sweep":"n1","t":2.66,"i":0.025},{"sweep":"n1","t":2.7,"i":-0.01},{"sweep":"n1","t":2.74,"i":0.04},{"sweep":"n1","t":2.78,"i":-0.005},{"sweep":"n1","t":2.82,"i":0.02},{"sweep":"n1","t":2.86,"i":0.0},{"sweep":"n1","t":2.9,"i":0.03},{"sweep":"n1","t":2.94,"i":-0.015},{"sweep":"n1","t":2.98,"i":0.025},{"sweep":"n1","t":3.02,"i":0.005},{"sweep":"n1","t":3.06,"i":0.035},{"sweep":"n1","t":3.1,"i":-0.01},{"sweep":"n1","t":3.14,"i":0.02},{"sweep":"n1","t":3.18,"i":0.0},{"sweep":"n1","t":3.22,"i":0.03},{"sweep":"n1","t":3.26,"i":-0.02},{"sweep":"n1","t":3.3,"i":0.025},{"sweep":"n1","t":3.34,"i":0.01},{"sweep":"n1","t":3.38,"i":0.035},{"sweep":"n1","t":3.42,"i":-0.005},{"sweep":"n1","t":3.46,"i":0.02},{"sweep":"n1","t":3.5,"i":-0.01},{"sweep":"n1","t":3.54,"i":0.03},{"sweep":"n1","t":3.58,"i":0.0},{"sweep":"n1","t":3.62,"i":0.04},{"sweep":"n1","t":3.66,"i":-0.015},{"sweep":"n1","t":3.7,"i":0.025},{"sweep":"n1","t":3.74,"i":0.005},{"sweep":"n1","t":3.78,"i":0.02},{"sweep":"n1","t":3.82,"i":-0.01},{"sweep":"n1","t":3.86,"i":0.03},{"sweep":"n1","t":3.879,"i":0.0},{"sweep":"n1","t":3.881,"i":0.96},{"sweep":"n1","t":3.9,"i":0.78},{"sweep":"n1","t":3.94,"i":0.74},{"sweep":"n1","t":3.98,"i":0.79},{"sweep":"n1","t":4.02,"i":0.73},{"sweep":"n1","t":4.06,"i":0.78},{"sweep":"n1","t":4.08,"i":0.75},{"sweep":"n1","t":4.083,"i":0.02},{"sweep":"n1","t":4.1,"i":0.02},{"sweep":"n1","t":4.14,"i":-0.01},{"sweep":"n1","t":4.18,"i":0.025},
{"sweep":"n2","t":0,"i":0.01},{"sweep":"n2","t":0.015,"i":-0.02},{"sweep":"n2","t":0.025,"i":0.03},{"sweep":"n2","t":0.035,"i":-0.05},{"sweep":"n2","t":0.045,"i":0.02},{"sweep":"n2","t":0.055,"i":-0.02},{"sweep":"n2","t":0.065,"i":0.02},{"sweep":"n2","t":0.075,"i":-0.03},{"sweep":"n2","t":0.085,"i":0.01},{"sweep":"n2","t":0.095,"i":-0.02},
{"sweep":"n2","t":0.104,"i":0.92},{"sweep":"n2","t":0.125,"i":0.8},{"sweep":"n2","t":0.15,"i":0.88},{"sweep":"n2","t":0.175,"i":0.76},{"sweep":"n2","t":0.2,"i":0.86},{"sweep":"n2","t":0.225,"i":0.74},{"sweep":"n2","t":0.25,"i":0.84},{"sweep":"n2","t":0.275,"i":0.73},{"sweep":"n2","t":0.3,"i":0.83},{"sweep":"n2","t":0.325,"i":0.72},{"sweep":"n2","t":0.35,"i":0.82},{"sweep":"n2","t":0.375,"i":0.7},{"sweep":"n2","t":0.4,"i":0.8},{"sweep":"n2","t":0.425,"i":0.71},{"sweep":"n2","t":0.45,"i":0.79},{"sweep":"n2","t":0.475,"i":0.69},{"sweep":"n2","t":0.5,"i":0.78},{"sweep":"n2","t":0.525,"i":0.7},{"sweep":"n2","t":0.55,"i":0.79},{"sweep":"n2","t":0.575,"i":0.68},{"sweep":"n2","t":0.6,"i":0.77},{"sweep":"n2","t":0.625,"i":0.67},{"sweep":"n2","t":0.65,"i":0.76},{"sweep":"n2","t":0.675,"i":0.68},{"sweep":"n2","t":0.7,"i":0.75},{"sweep":"n2","t":0.725,"i":0.66},{"sweep":"n2","t":0.75,"i":0.74},{"sweep":"n2","t":0.775,"i":0.65},{"sweep":"n2","t":0.8,"i":0.73},{"sweep":"n2","t":0.825,"i":0.66},{"sweep":"n2","t":0.85,"i":0.72},{"sweep":"n2","t":0.875,"i":0.64},{"sweep":"n2","t":0.9,"i":0.73},{"sweep":"n2","t":0.925,"i":0.63},{"sweep":"n2","t":0.95,"i":0.72},{"sweep":"n2","t":0.975,"i":0.64},{"sweep":"n2","t":1.0,"i":0.7},{"sweep":"n2","t":1.025,"i":0.62},{"sweep":"n2","t":1.05,"i":0.71},{"sweep":"n2","t":1.075,"i":0.63},{"sweep":"n2","t":1.1,"i":0.7},{"sweep":"n2","t":1.125,"i":0.61},{"sweep":"n2","t":1.15,"i":0.69},{"sweep":"n2","t":1.175,"i":0.62},{"sweep":"n2","t":1.2,"i":0.68},{"sweep":"n2","t":1.225,"i":0.6},{"sweep":"n2","t":1.25,"i":0.67},{"sweep":"n2","t":1.275,"i":0.61},{"sweep":"n2","t":1.3,"i":0.68},{"sweep":"n2","t":1.325,"i":0.59},{"sweep":"n2","t":1.35,"i":0.66},{"sweep":"n2","t":1.375,"i":0.6},{"sweep":"n2","t":1.4,"i":0.67},{"sweep":"n2","t":1.425,"i":0.58},{"sweep":"n2","t":1.45,"i":0.66},{"sweep":"n2","t":1.475,"i":0.59},{"sweep":"n2","t":1.5,"i":0.65},{"sweep":"n2","t":1.525,"i":0.58},{"sweep":"n2","t":1.55,"i":0.66},{"sweep":"n2","t":1.575,"i":0.57},{"sweep":"n2","t":1.597,"i":0.64},
{"sweep":"n2","t":1.64,"i":-0.02},{"sweep":"n2","t":1.68,"i":0.01},{"sweep":"n2","t":1.72,"i":-0.03},{"sweep":"n2","t":1.76,"i":0.0},{"sweep":"n2","t":1.8,"i":-0.025},{"sweep":"n2","t":1.84,"i":0.01},{"sweep":"n2","t":1.88,"i":-0.035},{"sweep":"n2","t":1.92,"i":0.005},{"sweep":"n2","t":1.96,"i":-0.02},{"sweep":"n2","t":2.0,"i":0.01},{"sweep":"n2","t":2.04,"i":-0.03},{"sweep":"n2","t":2.08,"i":-0.005},{"sweep":"n2","t":2.12,"i":-0.025},{"sweep":"n2","t":2.16,"i":0.01},{"sweep":"n2","t":2.2,"i":-0.04},{"sweep":"n2","t":2.24,"i":0.0},{"sweep":"n2","t":2.28,"i":-0.02},{"sweep":"n2","t":2.32,"i":0.005},{"sweep":"n2","t":2.36,"i":-0.03},{"sweep":"n2","t":2.4,"i":0.01},{"sweep":"n2","t":2.44,"i":-0.025},{"sweep":"n2","t":2.48,"i":-0.005},{"sweep":"n2","t":2.52,"i":-0.035},{"sweep":"n2","t":2.56,"i":0.01},{"sweep":"n2","t":2.6,"i":-0.02},{"sweep":"n2","t":2.64,"i":0.0},{"sweep":"n2","t":2.68,"i":-0.03},{"sweep":"n2","t":2.72,"i":0.005},{"sweep":"n2","t":2.76,"i":-0.025},{"sweep":"n2","t":2.8,"i":0.01},{"sweep":"n2","t":2.84,"i":-0.02},{"sweep":"n2","t":2.88,"i":-0.005},{"sweep":"n2","t":2.92,"i":-0.035},{"sweep":"n2","t":2.96,"i":0.01},{"sweep":"n2","t":3.0,"i":-0.02},{"sweep":"n2","t":3.04,"i":0.0},{"sweep":"n2","t":3.08,"i":-0.03},{"sweep":"n2","t":3.12,"i":0.005},{"sweep":"n2","t":3.16,"i":-0.025},{"sweep":"n2","t":3.2,"i":0.01},{"sweep":"n2","t":3.24,"i":-0.02},{"sweep":"n2","t":3.28,"i":0.0},{"sweep":"n2","t":3.32,"i":-0.035},{"sweep":"n2","t":3.36,"i":0.005},{"sweep":"n2","t":3.4,"i":-0.025},{"sweep":"n2","t":3.44,"i":0.01},{"sweep":"n2","t":3.48,"i":-0.02},{"sweep":"n2","t":3.52,"i":0.0},{"sweep":"n2","t":3.56,"i":-0.03},{"sweep":"n2","t":3.6,"i":0.005},{"sweep":"n2","t":3.64,"i":-0.04},{"sweep":"n2","t":3.68,"i":0.01},{"sweep":"n2","t":3.72,"i":-0.02},{"sweep":"n2","t":3.76,"i":0.0},{"sweep":"n2","t":3.8,"i":-0.03},{"sweep":"n2","t":3.84,"i":0.005},{"sweep":"n2","t":3.878,"i":-0.02},{"sweep":"n2","t":3.8805,"i":0.85},{"sweep":"n2","t":3.92,"i":0.8},{"sweep":"n2","t":3.96,"i":0.74},{"sweep":"n2","t":4.0,"i":0.78},{"sweep":"n2","t":4.04,"i":0.72},{"sweep":"n2","t":4.08,"i":0.77},{"sweep":"n2","t":4.084,"i":-0.01},{"sweep":"n2","t":4.12,"i":-0.025},{"sweep":"n2","t":4.16,"i":0.01},{"sweep":"n2","t":4.18,"i":-0.01},
{"sweep":"n3","t":0,"i":-0.01},{"sweep":"n3","t":0.02,"i":0.02},{"sweep":"n3","t":0.04,"i":-0.02},{"sweep":"n3","t":0.06,"i":0.01},{"sweep":"n3","t":0.08,"i":-0.01},{"sweep":"n3","t":0.098,"i":0.0},
{"sweep":"n3","t":0.104,"i":0.62},{"sweep":"n3","t":0.125,"i":0.55},{"sweep":"n3","t":0.15,"i":0.6},{"sweep":"n3","t":0.175,"i":0.5},{"sweep":"n3","t":0.2,"i":0.58},{"sweep":"n3","t":0.225,"i":0.49},{"sweep":"n3","t":0.25,"i":0.57},{"sweep":"n3","t":0.275,"i":0.47},{"sweep":"n3","t":0.3,"i":0.55},{"sweep":"n3","t":0.325,"i":0.46},{"sweep":"n3","t":0.35,"i":0.54},{"sweep":"n3","t":0.375,"i":0.45},{"sweep":"n3","t":0.4,"i":0.56},{"sweep":"n3","t":0.425,"i":0.44},{"sweep":"n3","t":0.45,"i":0.52},{"sweep":"n3","t":0.475,"i":0.43},{"sweep":"n3","t":0.5,"i":0.5},{"sweep":"n3","t":0.525,"i":0.41},{"sweep":"n3","t":0.55,"i":0.5},{"sweep":"n3","t":0.575,"i":0.42},{"sweep":"n3","t":0.6,"i":0.49},{"sweep":"n3","t":0.625,"i":0.4},{"sweep":"n3","t":0.65,"i":0.48},{"sweep":"n3","t":0.675,"i":0.41},{"sweep":"n3","t":0.7,"i":0.49},{"sweep":"n3","t":0.725,"i":0.4},{"sweep":"n3","t":0.75,"i":0.47},{"sweep":"n3","t":0.775,"i":0.39},{"sweep":"n3","t":0.8,"i":0.48},{"sweep":"n3","t":0.825,"i":0.4},{"sweep":"n3","t":0.85,"i":0.47},{"sweep":"n3","t":0.875,"i":0.38},{"sweep":"n3","t":0.9,"i":0.46},{"sweep":"n3","t":0.925,"i":0.39},{"sweep":"n3","t":0.95,"i":0.47},{"sweep":"n3","t":0.975,"i":0.38},{"sweep":"n3","t":1.0,"i":0.45},{"sweep":"n3","t":1.025,"i":0.37},{"sweep":"n3","t":1.05,"i":0.46},{"sweep":"n3","t":1.075,"i":0.38},{"sweep":"n3","t":1.1,"i":0.45},{"sweep":"n3","t":1.125,"i":0.37},{"sweep":"n3","t":1.15,"i":0.44},{"sweep":"n3","t":1.175,"i":0.36},{"sweep":"n3","t":1.2,"i":0.45},{"sweep":"n3","t":1.225,"i":0.37},{"sweep":"n3","t":1.25,"i":0.44},{"sweep":"n3","t":1.275,"i":0.36},{"sweep":"n3","t":1.3,"i":0.43},{"sweep":"n3","t":1.325,"i":0.35},{"sweep":"n3","t":1.35,"i":0.44},{"sweep":"n3","t":1.375,"i":0.36},{"sweep":"n3","t":1.4,"i":0.43},{"sweep":"n3","t":1.425,"i":0.35},{"sweep":"n3","t":1.45,"i":0.42},{"sweep":"n3","t":1.475,"i":0.34},{"sweep":"n3","t":1.5,"i":0.43},{"sweep":"n3","t":1.525,"i":0.35},{"sweep":"n3","t":1.55,"i":0.42},{"sweep":"n3","t":1.575,"i":0.34},{"sweep":"n3","t":1.597,"i":0.4},
{"sweep":"n3","t":1.63,"i":0.0},{"sweep":"n3","t":1.67,"i":-0.03},{"sweep":"n3","t":1.71,"i":0.015},{"sweep":"n3","t":1.75,"i":-0.02},{"sweep":"n3","t":1.79,"i":0.01},{"sweep":"n3","t":1.83,"i":-0.03},{"sweep":"n3","t":1.87,"i":0.02},{"sweep":"n3","t":1.91,"i":-0.015},{"sweep":"n3","t":1.95,"i":0.005},{"sweep":"n3","t":1.99,"i":-0.025},{"sweep":"n3","t":2.03,"i":0.015},{"sweep":"n3","t":2.07,"i":-0.02},{"sweep":"n3","t":2.11,"i":0.01},{"sweep":"n3","t":2.15,"i":-0.03},{"sweep":"n3","t":2.19,"i":0.02},{"sweep":"n3","t":2.23,"i":-0.01},{"sweep":"n3","t":2.27,"i":0.005},{"sweep":"n3","t":2.31,"i":-0.025},{"sweep":"n3","t":2.35,"i":0.015},{"sweep":"n3","t":2.39,"i":-0.02},{"sweep":"n3","t":2.43,"i":0.01},{"sweep":"n3","t":2.47,"i":-0.03},{"sweep":"n3","t":2.51,"i":0.02},{"sweep":"n3","t":2.55,"i":-0.015},{"sweep":"n3","t":2.59,"i":0.005},{"sweep":"n3","t":2.63,"i":-0.025},{"sweep":"n3","t":2.67,"i":0.015},{"sweep":"n3","t":2.71,"i":-0.02},{"sweep":"n3","t":2.75,"i":0.01},{"sweep":"n3","t":2.79,"i":-0.03},{"sweep":"n3","t":2.83,"i":0.02},{"sweep":"n3","t":2.87,"i":-0.01},{"sweep":"n3","t":2.91,"i":0.005},{"sweep":"n3","t":2.95,"i":-0.025},{"sweep":"n3","t":2.99,"i":0.015},{"sweep":"n3","t":3.03,"i":-0.02},{"sweep":"n3","t":3.07,"i":0.01},{"sweep":"n3","t":3.11,"i":-0.03},{"sweep":"n3","t":3.15,"i":0.02},{"sweep":"n3","t":3.19,"i":-0.015},{"sweep":"n3","t":3.23,"i":0.005},{"sweep":"n3","t":3.27,"i":-0.025},{"sweep":"n3","t":3.31,"i":0.015},{"sweep":"n3","t":3.35,"i":-0.02},{"sweep":"n3","t":3.39,"i":0.01},{"sweep":"n3","t":3.43,"i":-0.03},{"sweep":"n3","t":3.47,"i":0.02},{"sweep":"n3","t":3.51,"i":-0.01},{"sweep":"n3","t":3.55,"i":0.005},{"sweep":"n3","t":3.59,"i":-0.025},{"sweep":"n3","t":3.63,"i":0.015},{"sweep":"n3","t":3.67,"i":-0.02},{"sweep":"n3","t":3.71,"i":0.01},{"sweep":"n3","t":3.75,"i":-0.03},{"sweep":"n3","t":3.79,"i":0.02},{"sweep":"n3","t":3.83,"i":-0.015},{"sweep":"n3","t":3.87,"i":0.005},{"sweep":"n3","t":3.879,"i":-0.01},{"sweep":"n3","t":3.8815,"i":0.9},{"sweep":"n3","t":3.9,"i":0.76},{"sweep":"n3","t":3.94,"i":0.8},{"sweep":"n3","t":3.98,"i":0.73},{"sweep":"n3","t":4.02,"i":0.77},{"sweep":"n3","t":4.06,"i":0.74},{"sweep":"n3","t":4.08,"i":0.78},{"sweep":"n3","t":4.085,"i":0.0},{"sweep":"n3","t":4.11,"i":-0.03},{"sweep":"n3","t":4.15,"i":0.015},{"sweep":"n3","t":4.18,"i":-0.02},
{"sweep":"n4","t":0,"i":0.0},{"sweep":"n4","t":0.098,"i":0.0},{"sweep":"n4","t":0.104,"i":1.0},{"sweep":"n4","t":0.125,"i":0.9},{"sweep":"n4","t":0.15,"i":0.96},{"sweep":"n4","t":0.175,"i":0.88},{"sweep":"n4","t":0.2,"i":0.99},{"sweep":"n4","t":0.225,"i":0.86},{"sweep":"n4","t":0.25,"i":0.94},{"sweep":"n4","t":0.275,"i":0.85},{"sweep":"n4","t":0.3,"i":0.93},{"sweep":"n4","t":0.325,"i":0.84},{"sweep":"n4","t":0.35,"i":0.97},{"sweep":"n4","t":0.375,"i":0.83},{"sweep":"n4","t":0.4,"i":0.92},{"sweep":"n4","t":0.425,"i":0.84},{"sweep":"n4","t":0.45,"i":0.9},{"sweep":"n4","t":0.475,"i":0.82},{"sweep":"n4","t":0.5,"i":0.91},{"sweep":"n4","t":0.525,"i":0.8},{"sweep":"n4","t":0.55,"i":0.89},{"sweep":"n4","t":0.575,"i":0.81},{"sweep":"n4","t":0.6,"i":0.98},{"sweep":"n4","t":0.625,"i":0.8},{"sweep":"n4","t":0.65,"i":0.88},{"sweep":"n4","t":0.675,"i":0.79},{"sweep":"n4","t":0.7,"i":0.87},{"sweep":"n4","t":0.725,"i":0.8},{"sweep":"n4","t":0.75,"i":0.86},{"sweep":"n4","t":0.775,"i":0.78},{"sweep":"n4","t":0.8,"i":0.87},{"sweep":"n4","t":0.825,"i":0.77},{"sweep":"n4","t":0.85,"i":0.85},{"sweep":"n4","t":0.875,"i":0.78},{"sweep":"n4","t":0.9,"i":0.86},{"sweep":"n4","t":0.925,"i":0.76},{"sweep":"n4","t":0.95,"i":0.84},{"sweep":"n4","t":0.975,"i":0.77},{"sweep":"n4","t":1.0,"i":0.85},{"sweep":"n4","t":1.025,"i":0.75},{"sweep":"n4","t":1.05,"i":0.93},{"sweep":"n4","t":1.075,"i":0.76},{"sweep":"n4","t":1.1,"i":0.83},{"sweep":"n4","t":1.125,"i":0.74},{"sweep":"n4","t":1.15,"i":0.82},{"sweep":"n4","t":1.175,"i":0.75},{"sweep":"n4","t":1.2,"i":0.83},{"sweep":"n4","t":1.225,"i":0.73},{"sweep":"n4","t":1.25,"i":0.81},{"sweep":"n4","t":1.275,"i":0.74},{"sweep":"n4","t":1.3,"i":0.82},{"sweep":"n4","t":1.325,"i":0.72},{"sweep":"n4","t":1.35,"i":0.8},{"sweep":"n4","t":1.375,"i":0.73},{"sweep":"n4","t":1.4,"i":0.81},{"sweep":"n4","t":1.425,"i":0.71},{"sweep":"n4","t":1.45,"i":0.79},{"sweep":"n4","t":1.475,"i":0.72},{"sweep":"n4","t":1.5,"i":0.8},{"sweep":"n4","t":1.525,"i":0.7},{"sweep":"n4","t":1.55,"i":0.78},{"sweep":"n4","t":1.575,"i":0.71},{"sweep":"n4","t":1.597,"i":0.76},
{"sweep":"n4","t":1.65,"i":0.01},{"sweep":"n4","t":1.69,"i":-0.025},{"sweep":"n4","t":1.73,"i":0.02},{"sweep":"n4","t":1.77,"i":-0.03},{"sweep":"n4","t":1.81,"i":0.015},{"sweep":"n4","t":1.85,"i":-0.02},{"sweep":"n4","t":1.89,"i":0.025},{"sweep":"n4","t":1.93,"i":-0.03},{"sweep":"n4","t":1.97,"i":0.01},{"sweep":"n4","t":2.01,"i":-0.025},{"sweep":"n4","t":2.05,"i":0.02},{"sweep":"n4","t":2.09,"i":-0.015},{"sweep":"n4","t":2.13,"i":0.015},{"sweep":"n4","t":2.17,"i":-0.03},{"sweep":"n4","t":2.21,"i":0.02},{"sweep":"n4","t":2.25,"i":-0.02},{"sweep":"n4","t":2.29,"i":0.01},{"sweep":"n4","t":2.33,"i":-0.035},{"sweep":"n4","t":2.37,"i":0.02},{"sweep":"n4","t":2.41,"i":-0.015},{"sweep":"n4","t":2.45,"i":0.015},{"sweep":"n4","t":2.49,"i":-0.03},{"sweep":"n4","t":2.53,"i":0.02},{"sweep":"n4","t":2.57,"i":-0.02},{"sweep":"n4","t":2.61,"i":0.01},{"sweep":"n4","t":2.65,"i":-0.025},{"sweep":"n4","t":2.69,"i":0.025},{"sweep":"n4","t":2.73,"i":-0.02},{"sweep":"n4","t":2.77,"i":0.01},{"sweep":"n4","t":2.81,"i":-0.03},{"sweep":"n4","t":2.85,"i":0.02},{"sweep":"n4","t":2.89,"i":-0.015},{"sweep":"n4","t":2.93,"i":0.015},{"sweep":"n4","t":2.97,"i":-0.03},{"sweep":"n4","t":3.01,"i":0.02},{"sweep":"n4","t":3.05,"i":-0.02},{"sweep":"n4","t":3.09,"i":0.01},{"sweep":"n4","t":3.13,"i":-0.025},{"sweep":"n4","t":3.17,"i":0.025},{"sweep":"n4","t":3.21,"i":-0.02},{"sweep":"n4","t":3.25,"i":0.01},{"sweep":"n4","t":3.29,"i":-0.03},{"sweep":"n4","t":3.33,"i":0.02},{"sweep":"n4","t":3.37,"i":-0.015},{"sweep":"n4","t":3.41,"i":0.015},{"sweep":"n4","t":3.45,"i":-0.03},{"sweep":"n4","t":3.49,"i":0.02},{"sweep":"n4","t":3.53,"i":-0.02},{"sweep":"n4","t":3.57,"i":0.01},{"sweep":"n4","t":3.61,"i":-0.025},{"sweep":"n4","t":3.65,"i":0.025},{"sweep":"n4","t":3.69,"i":-0.02},{"sweep":"n4","t":3.73,"i":0.01},{"sweep":"n4","t":3.77,"i":-0.03},{"sweep":"n4","t":3.81,"i":0.02},{"sweep":"n4","t":3.85,"i":-0.015},{"sweep":"n4","t":3.87,"i":0.0},{"sweep":"n4","t":4.09,"i":0.0},{"sweep":"n4","t":4.11,"i":0.02},{"sweep":"n4","t":4.15,"i":-0.02},{"sweep":"n4","t":4.18,"i":0.01},
{"sweep":"n5","t":0,"i":0.0},{"sweep":"n5","t":0.098,"i":0.0},{"sweep":"n5","t":0.104,"i":0.76},{"sweep":"n5","t":0.125,"i":0.66},{"sweep":"n5","t":0.15,"i":0.72},{"sweep":"n5","t":0.175,"i":0.63},{"sweep":"n5","t":0.2,"i":0.7},{"sweep":"n5","t":0.225,"i":0.6},{"sweep":"n5","t":0.25,"i":0.69},{"sweep":"n5","t":0.275,"i":0.59},{"sweep":"n5","t":0.3,"i":0.66},{"sweep":"n5","t":0.325,"i":0.58},{"sweep":"n5","t":0.35,"i":0.65},{"sweep":"n5","t":0.375,"i":0.56},{"sweep":"n5","t":0.4,"i":0.64},{"sweep":"n5","t":0.425,"i":0.55},{"sweep":"n5","t":0.45,"i":0.63},{"sweep":"n5","t":0.475,"i":0.54},{"sweep":"n5","t":0.5,"i":0.62},{"sweep":"n5","t":0.525,"i":0.53},{"sweep":"n5","t":0.55,"i":0.61},{"sweep":"n5","t":0.575,"i":0.52},{"sweep":"n5","t":0.6,"i":0.6},{"sweep":"n5","t":0.625,"i":0.52},{"sweep":"n5","t":0.65,"i":0.59},{"sweep":"n5","t":0.675,"i":0.5},{"sweep":"n5","t":0.7,"i":0.58},{"sweep":"n5","t":0.725,"i":0.51},{"sweep":"n5","t":0.75,"i":0.57},{"sweep":"n5","t":0.775,"i":0.49},{"sweep":"n5","t":0.8,"i":0.56},{"sweep":"n5","t":0.825,"i":0.5},{"sweep":"n5","t":0.85,"i":0.57},{"sweep":"n5","t":0.875,"i":0.48},{"sweep":"n5","t":0.9,"i":0.55},{"sweep":"n5","t":0.925,"i":0.49},{"sweep":"n5","t":0.95,"i":0.56},{"sweep":"n5","t":0.975,"i":0.47},{"sweep":"n5","t":1.0,"i":0.55},{"sweep":"n5","t":1.025,"i":0.48},{"sweep":"n5","t":1.05,"i":0.54},{"sweep":"n5","t":1.075,"i":0.47},{"sweep":"n5","t":1.1,"i":0.55},{"sweep":"n5","t":1.125,"i":0.46},{"sweep":"n5","t":1.15,"i":0.53},{"sweep":"n5","t":1.175,"i":0.47},{"sweep":"n5","t":1.2,"i":0.54},{"sweep":"n5","t":1.225,"i":0.46},{"sweep":"n5","t":1.25,"i":0.53},{"sweep":"n5","t":1.275,"i":0.45},{"sweep":"n5","t":1.3,"i":0.52},{"sweep":"n5","t":1.325,"i":0.46},{"sweep":"n5","t":1.35,"i":0.53},{"sweep":"n5","t":1.375,"i":0.45},{"sweep":"n5","t":1.4,"i":0.52},{"sweep":"n5","t":1.425,"i":0.44},{"sweep":"n5","t":1.45,"i":0.51},{"sweep":"n5","t":1.475,"i":0.45},{"sweep":"n5","t":1.5,"i":0.52},{"sweep":"n5","t":1.525,"i":0.44},{"sweep":"n5","t":1.55,"i":0.5},{"sweep":"n5","t":1.575,"i":0.43},{"sweep":"n5","t":1.597,"i":0.48},{"sweep":"n5","t":1.603,"i":0.0},{"sweep":"n5","t":4.18,"i":0.0}
]},
"mark": {"type": "line", "color": "black", "strokeWidth": 1.7, "clip": true},
"encoding": {
"x": {"field": "t", "type": "quantitative", "scale": {"domain": [0, 4.183], "nice": false, "zero": false},
"axis": {"values": [0.1, 1.6, 4.1], "format": "~g", "title": "t [s]", "titleFontSize": 25, "titleFontWeight": "normal", "titleColor": "#262626", "titleFont": "DejaVu Sans", "labelFont": "DejaVu Sans", "labelFontSize": 23, "labelColor": "#262626", "tickSize": -6, "labelPadding": 20, "titlePadding": 8, "domainColor": "#666666", "tickColor": "#666666", "grid": false, "labelFlush": false}},
"y": {"field": "i", "type": "quantitative", "scale": {"domain": [-0.358, 1.939], "nice": false, "zero": false},
"axis": {"values": [0, 0.8, 1.6], "format": "~g", "title": "I / Iₘₐₓ", "titleFontSize": 25, "titleFontWeight": "normal", "titleColor": "#262626", "titleFont": "DejaVu Sans", "labelFont": "DejaVu Sans", "labelFontSize": 23, "labelColor": "#262626", "labelAlign": "center", "tickSize": -6, "labelPadding": 40, "titlePadding": 18, "domainColor": "#666666", "tickColor": "#666666", "grid": false, "labelFlush": false}},
"detail": {"field": "sweep"}
}
},
{
"data": {"values": [{}]},
"mark": {"type": "text", "align": "right", "baseline": "middle", "fontSize": 19, "font": "DejaVu Sans", "color": "black"},
"encoding": {"x": {"datum": 4.172}, "y": {"datum": 1.953}, "text": {"value": "25 °C\u00a0\u00a0Recovery"}}
},
{
"data": {"values": [{}]},
"mark": {"type": "text", "align": "center", "baseline": "middle", "angle": 270, "fontSize": 13.5, "font": "DejaVu Sans", "color": "black"},
"encoding": {"x": {"datum": 4.262}, "y": {"datum": 0.795}, "text": {"value": "BBP Channelpedia ID 25163 rep 1"}}
}
]
}
